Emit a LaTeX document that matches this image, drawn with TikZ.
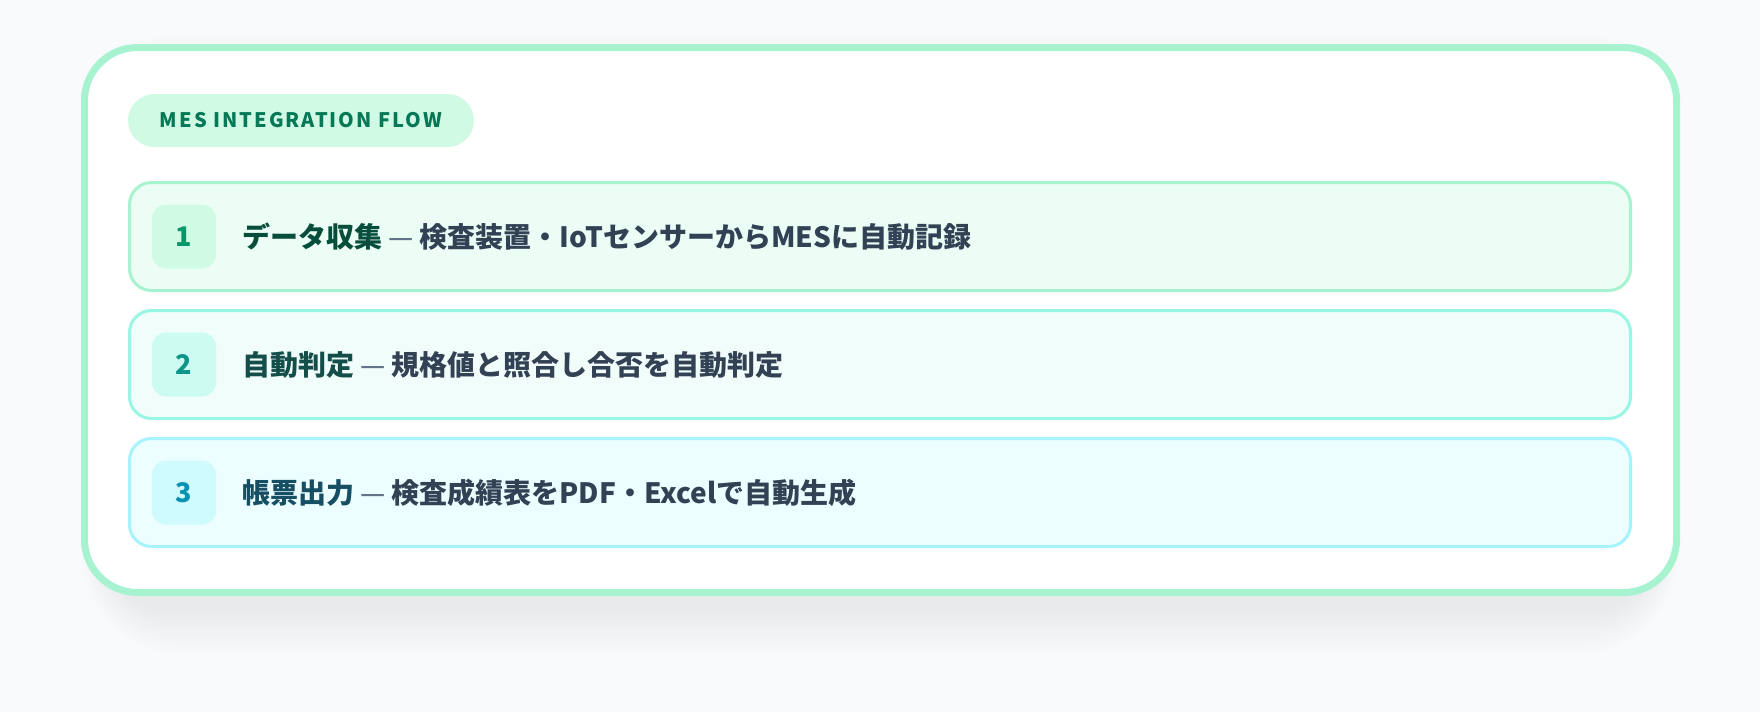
\documentclass[tikz,border=0pt]{standalone}
\usepackage{fontspec}
\setmainfont{Noto Sans CJK JP}
\newfontfamily\medfont{Noto Sans CJK JP Medium}
\newfontfamily\heavyfont{Noto Sans CJK JP Black}
\newfontfamily\badgefont{Noto Sans CJK JP}[LetterSpace=10]
\usepackage{tikz}
\usetikzlibrary{positioning}

\definecolor{bgc}{HTML}{F8FAFC}
\definecolor{cardline}{HTML}{A7F3D0}
\definecolor{badgefill}{HTML}{D1FAE5}
\definecolor{badgetext}{HTML}{047857}
\definecolor{rowafill}{HTML}{ECFDF5}
\definecolor{rowaline}{HTML}{A7F3D0}
\definecolor{numafill}{HTML}{D1FAE5}
\definecolor{numatext}{HTML}{059669}
\definecolor{titlea}{HTML}{064E3B}
\definecolor{rowbfill}{HTML}{F0FDFA}
\definecolor{rowbline}{HTML}{99F6E4}
\definecolor{numbfill}{HTML}{CCFBF1}
\definecolor{numbtext}{HTML}{0D9488}
\definecolor{titleb}{HTML}{134E4A}
\definecolor{rowcfill}{HTML}{ECFEFF}
\definecolor{rowcline}{HTML}{A5F3FC}
\definecolor{numcfill}{HTML}{CFFAFE}
\definecolor{numctext}{HTML}{0891B2}
\definecolor{titlec}{HTML}{164E63}
\definecolor{desc}{HTML}{334155}
\definecolor{dashc}{HTML}{64748B}

\newcommand{\flowline}[3]{{\heavyfont\color{#1}#2} {\medfont\color{dashc}—} {\bfseries\color{desc}#3}}

\begin{document}
\begin{tikzpicture}[x=0.5pt,y=-0.5pt,
	every node/.style={inner sep=0pt,outer sep=0pt},
	pill/.style={fill=badgefill,rounded corners=13.25pt,minimum width=173pt,minimum height=26.5pt,
		font=\badgefont\bfseries\fontsize{10pt}{12pt}\selectfont,text=badgetext},
	rowbox/.style={line width=1.5pt,rounded corners=11pt,minimum width=750.5pt,minimum height=54pt},
	numbox/.style={rounded corners=7pt,minimum width=32pt,minimum height=32pt,
		font=\bfseries\fontsize{13.5pt}{15pt}\selectfont},
	rowtext/.style={anchor=west,font=\fontsize{14pt}{17pt}\selectfont},
	]
	\useasboundingbox (0,0) rectangle (1760,712);
	\fill[bgc] (0,0) rectangle (1760,712);
	
	% card and its shadow
	\foreach \s in {3,6,...,48}{
		\pgfmathsetmacro{\rr}{28+\s/2}
		\fill[black,opacity=0.005,rounded corners=\rr pt] (110-0.6*\s,80-\s) rectangle (1651+0.6*\s,608+\s);
	}
	\draw[cardline,fill=white,line width=3.5pt,rounded corners=26.5pt] (84.5,47.5) rectangle (1676.5,592.5);
	
	% create the nodes
	\node (badge) [pill,anchor=north west] at (128,94) {MES INTEGRATION FLOW};
	
	\node (row1) [rowbox,fill=rowafill,draw=rowaline,anchor=north west] at (129.5,182.5) {};
	\node (row2) [rowbox,fill=rowbfill,draw=rowbline,below=10pt of row1] {};
	\node (row3) [rowbox,fill=rowcfill,draw=rowcline,below=10pt of row2] {};
	
	\node (num1) [numbox,fill=numafill,text=numatext,right=11.25pt of row1.west,anchor=west] {1};
	\node (num2) [numbox,fill=numbfill,text=numbtext,right=11.25pt of row2.west,anchor=west] {2};
	\node (num3) [numbox,fill=numcfill,text=numctext,right=11.25pt of row3.west,anchor=west] {3};
	
	\node (txt1) [rowtext,right=13pt of num1] {\flowline{titlea}{データ収集}{検査装置・IoTセンサーからMESに自動記録}};
	\node (txt2) [rowtext,right=13pt of num2] {\flowline{titleb}{自動判定}{規格値と照合し合否を自動判定}};
	\node (txt3) [rowtext,right=13pt of num3] {\flowline{titlec}{帳票出力}{検査成績表をPDF・Excelで自動生成}};
	
\end{tikzpicture}
\end{document}
